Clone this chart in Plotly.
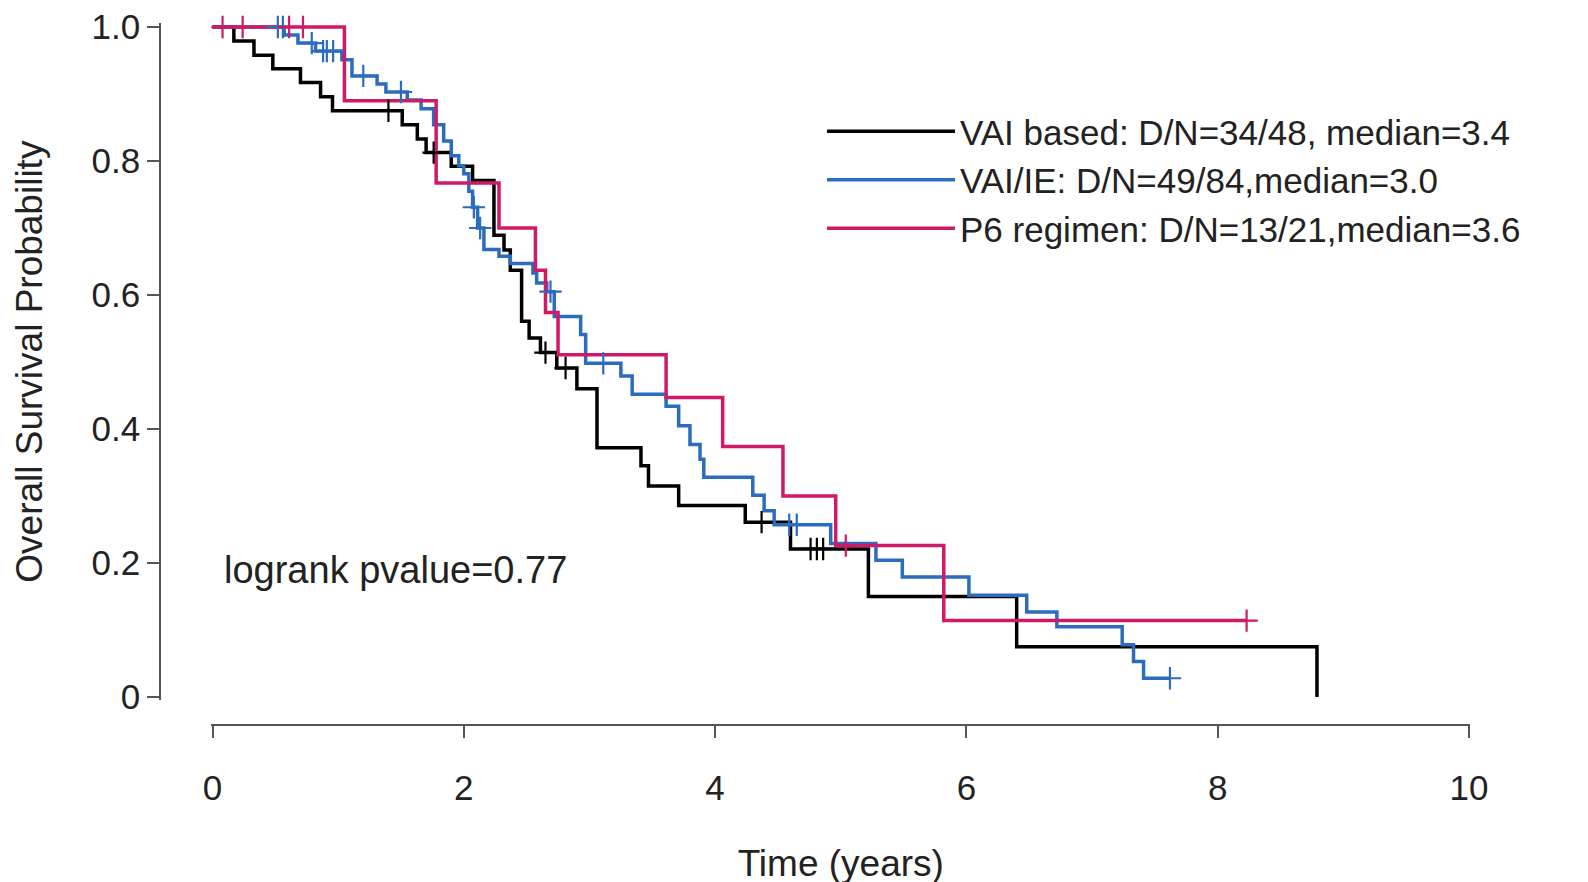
import numpy as np
import plotly.graph_objects as go

# ---------------- data ----------------
series_names = [
    "VAI based: D/N=34/48, median=3.4",
    "VAI/IE: D/N=49/84,median=3.0",
    "P6 regimen: D/N=13/21,median=3.6",
]

# VAI based (black): event times and survival after each event
vai_t = [0, 0.17, 0.33, 0.48, 0.70, 0.86, 0.955, 1.51, 1.63, 1.70, 1.90, 2.07, 2.24,
         2.32, 2.37, 2.46, 2.52, 2.61, 2.74, 2.90, 3.06, 3.41, 3.47, 3.71, 4.24,
         4.60, 5.22, 6.40, 8.79]
vai_s = [1.0, 0.979, 0.958, 0.9375, 0.917, 0.896, 0.875, 0.854, 0.833, 0.8125, 0.792,
         0.771, 0.689, 0.667, 0.637, 0.561, 0.536, 0.514, 0.491, 0.460, 0.372, 0.345,
         0.315, 0.286, 0.261, 0.221, 0.150, 0.075, 0.0]
vai_cens = [1.40, 1.76, 2.65, 2.81, 4.37, 4.76, 4.81, 4.86]

# VAI/IE (blue)
vie_t = [0, 0.57, 0.68, 0.82, 1.03, 1.11, 1.31, 1.38, 1.55, 1.66, 1.76, 1.84, 1.90,
         1.96, 2.00, 2.04, 2.07, 2.11, 2.16, 2.28, 2.37, 2.55, 2.58, 2.66, 2.72, 2.93,
         2.97, 3.25, 3.34, 3.61, 3.71, 3.80, 3.88, 3.91, 4.30, 4.39, 4.47, 4.92, 5.28,
         5.49, 6.02, 6.48, 6.72, 7.24, 7.33, 7.41]
vie_s = [1.0, 0.988, 0.976, 0.964, 0.951, 0.927, 0.915, 0.903, 0.891, 0.878, 0.854,
         0.830, 0.808, 0.793, 0.781, 0.755, 0.731, 0.700, 0.668, 0.658, 0.647, 0.633,
         0.618, 0.605, 0.568, 0.541, 0.498, 0.479, 0.452, 0.434, 0.405, 0.377, 0.355,
         0.328, 0.301, 0.278, 0.257, 0.229, 0.204, 0.179, 0.152, 0.127, 0.105, 0.078,
         0.053, 0.028]
vie_cens = [0.52, 0.56, 0.79, 0.88, 0.91, 0.96, 1.20, 1.50, 2.08, 2.13, 2.69, 3.11,
            4.59, 4.65, 7.62]

# P6 regimen (magenta)
p6_t = [0, 1.05, 1.78, 2.28, 2.57, 2.65, 2.75, 3.61, 4.06, 4.54, 4.96, 5.82]
p6_s = [1.0, 0.890, 0.767, 0.700, 0.637, 0.574, 0.511, 0.447, 0.374, 0.300, 0.226, 0.114]
p6_cens = [0.08, 0.24, 0.61, 0.72, 5.04, 8.23]

x_ticks = [0, 2, 4, 6, 8, 10]
y_ticks = [0, 0.2, 0.4, 0.6, 0.8, 1.0]
y_ticktext = ["0", "0.2", "0.4", "0.6", "0.8", "1.0"]
pvalue_text = "logrank pvalue=0.77"

# ---------------- style / geometry ----------------
W, H = 1588, 882
FONT = "Liberation Sans, Arial, sans-serif"
colors = ["#000000", "#2b6cbf", "#cf1a68"]
X0_PX, X10_PX = 204.5, 1461.0
Y1_PX, Y0_PX = 19.0, 689.0
XAXIS_PX, YAXIS_PX = 717.0, 152.0
ppy = (X10_PX - X0_PX) / 10.0
ppu = Y0_PX - Y1_PX
xr = [-0.01, 10.01]
yr = [-0.005, 1.006]
x_dom = [(X0_PX + xr[0] * ppy) / W, (X0_PX + xr[1] * ppy) / W]
y_dom = [1 - (Y0_PX - yr[0] * ppu) / H, 1 - (Y0_PX - yr[1] * ppu) / H]


def step_value(times, surv, t):
    i = np.searchsorted(np.asarray(times), t, side="right") - 1
    return surv[max(i, 0)]


fig = go.Figure()
groups = [(vai_t, vai_s, vai_cens), (vie_t, vie_s, vie_cens), (p6_t, p6_s, p6_cens)]
for (tt, ss, cc), name, col in zip(groups, series_names, colors):
    t_end = max(max(tt), max(cc))
    xs = list(tt) + ([t_end] if t_end > tt[-1] else [])
    ys = list(ss) + ([ss[-1]] if t_end > tt[-1] else [])
    fig.add_trace(go.Scatter(x=xs, y=ys, mode="lines", line=dict(shape="hv", color=col, width=3.5),
                             name=name, showlegend=True))
for (tt, ss, cc), col in zip(groups, colors):
    fig.add_trace(go.Scatter(x=cc, y=[step_value(tt, ss, c) for c in cc], mode="markers",
                             marker=dict(symbol="cross-thin", size=16, line=dict(color=col, width=2.2)),
                             showlegend=False, cliponaxis=False, hoverinfo="skip"))

fig.add_annotation(x=0.075, y=0.19, xref="x", yref="y", text=pvalue_text, showarrow=False,
                   xanchor="left", yanchor="middle", font=dict(size=38, color="#222", family=FONT))

axis_common = dict(showgrid=False, zeroline=False, showline=True, linecolor="#555", linewidth=1.5,
                   ticks="outside", ticklen=12, tickwidth=1.5, tickcolor="#555",
                   tickfont=dict(size=35, color="#222", family=FONT), automargin=False,
                   ticklabeloverflow="allow")

fig.update_layout(
    width=W, height=H, margin=dict(l=0, r=0, t=0, b=0),
    paper_bgcolor="white", plot_bgcolor="white",
    font=dict(family=FONT, color="#222"),
    xaxis=dict(domain=x_dom, range=xr, anchor="free", position=1 - XAXIS_PX / H,
               tickvals=x_ticks, ticklabelstandoff=20,
               title=dict(text="Time (years)", font=dict(size=37, color="#222", family=FONT), standoff=43),
               **axis_common),
    yaxis=dict(domain=y_dom, range=yr, anchor="free", position=YAXIS_PX / W,
               tickvals=y_ticks, ticktext=y_ticktext,
               title=dict(text="Overall Survival Probability", font=dict(size=37, color="#222", family=FONT), standoff=37),
               **axis_common),
    legend=dict(x=814 / W, y=1 - 94 / H, xanchor="left", yanchor="top",
                font=dict(size=35, color="#222", family=FONT), bgcolor="rgba(0,0,0,0)",
                itemwidth=128, tracegroupgap=0),
    showlegend=True,
)

fig.write_html("out.html")
